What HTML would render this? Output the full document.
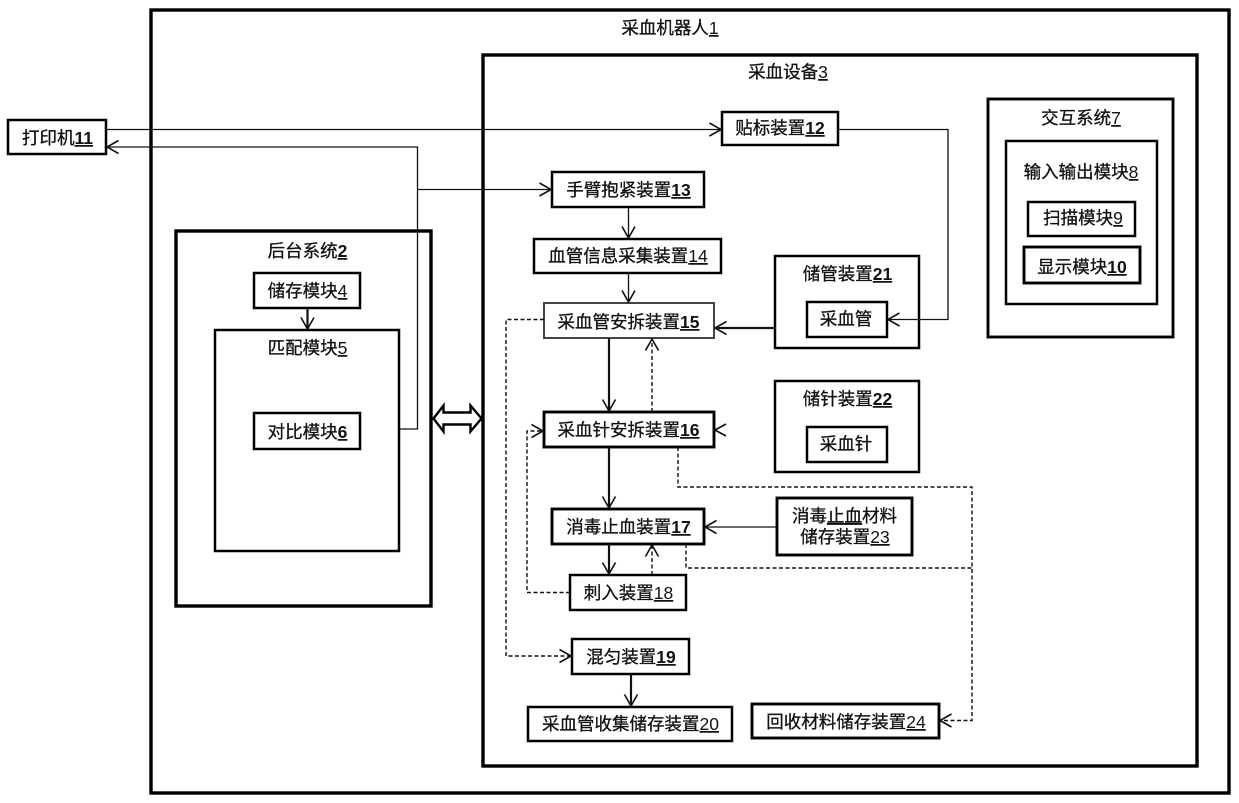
<!DOCTYPE html>
<html lang="zh">
<head>
<meta charset="utf-8">
<title>采血机器人</title>
<style>
html,body{margin:0;padding:0;background:#fff;}
svg{display:block;}
text{font-family:"Liberation Sans","WenQuanYi Zen Hei","Noto Sans CJK SC",sans-serif;font-size:17.5px;fill:#111;text-anchor:middle;stroke:#111;stroke-width:.3px;}
tspan.u{text-decoration:underline;font-weight:bold;stroke:none;}
tspan.n{text-decoration:underline;font-weight:normal;stroke:none;}
rect{fill:none;stroke:#000;}
.w3{stroke-width:3.4;}
.w4{stroke-width:2.9;}
.w2{stroke-width:2.5;}
.w1{stroke-width:2;stroke:#444;}
.l{fill:none;stroke:#111;stroke-width:1.3;}
.m{fill:none;stroke:#111;stroke-width:2.2;}
.d{fill:none;stroke:#111;stroke-width:1.4;stroke-dasharray:4 2.5;}
</style>
</head>
<body>
<svg width="1239" height="803" viewBox="0 0 1239 803" xmlns="http://www.w3.org/2000/svg">
<defs>
<marker id="a" markerUnits="userSpaceOnUse" markerWidth="14" markerHeight="14" refX="12" refY="7" orient="auto" overflow="visible">
<path d="M0.500 0.500 L12 7 L0.500 13.500" fill="none" stroke="#111" stroke-width="1.6"/>
</marker>
</defs>

<!-- containers -->
<rect class="w3" x="151" y="10" width="1078" height="783"/>
<rect class="w3" x="483" y="55" width="714" height="711"/>
<rect class="w3" x="176" y="231" width="255" height="375"/>
<rect class="w2" x="215" y="330" width="184" height="221"/>
<rect class="w2" x="254" y="273" width="106" height="35"/>
<rect class="w2" x="254" y="413" width="106" height="36"/>
<rect class="w2" x="8" y="120" width="98" height="34"/>

<rect class="w2" x="722" y="112" width="116" height="33"/>
<rect class="w2" x="552" y="172" width="152" height="35"/>
<rect class="w2" x="534" y="239" width="187" height="34"/>
<rect class="w1" x="544" y="303" width="170" height="35"/>
<rect class="w4" x="544" y="412" width="170" height="35"/>
<rect class="w4" x="552" y="509" width="152" height="35"/>
<rect class="w2" x="570" y="575" width="116" height="35"/>
<rect class="w2" x="572" y="639" width="117" height="35"/>
<rect class="w2" x="528" y="707" width="204" height="34"/>

<rect class="w2" x="775" y="256" width="144" height="92"/>
<rect class="w2" x="807" y="302" width="80" height="35"/>
<rect class="w2" x="775" y="381" width="144" height="91"/>
<rect class="w2" x="807" y="427" width="80" height="35"/>
<rect class="w4" x="777" y="498" width="135" height="57"/>
<rect class="w4" x="752" y="704" width="187" height="34"/>

<rect class="w4" x="988" y="99" width="185" height="238"/>
<rect class="w2" x="1006" y="141" width="151" height="163"/>
<rect class="w2" x="1028" y="202" width="107" height="34"/>
<rect class="w4" x="1024" y="247" width="116" height="36"/>

<!-- solid connectors -->
<path class="l" d="M106 129.500H721" marker-end="url(#a)"/>
<path class="l" d="M399 429H417.500V147H107" marker-end="url(#a)"/>
<path class="l" d="M417.500 189.500H551" marker-end="url(#a)"/>
<path class="m" d="M307.500 308V329" marker-end="url(#a)"/>
<path class="l" d="M838 129.500H948V319.500H888" marker-end="url(#a)"/>
<path class="l" d="M628.500 207V238" marker-end="url(#a)"/>
<path class="l" d="M628.500 273V302" marker-end="url(#a)"/>
<path class="m" d="M775 328H715" marker-end="url(#a)"/>
<path class="m" d="M609 338V411" marker-end="url(#a)"/>
<path class="m" d="M609 447V508" marker-end="url(#a)"/>
<path class="m" d="M609 544V574" marker-end="url(#a)"/>
<path class="l" d="M777 527H705" marker-end="url(#a)"/>
<path class="m" d="M631 674V706" marker-end="url(#a)"/>
<path d="M726 424 L715 430 L726 436" fill="none" stroke="#111" stroke-width="1.7"/>

<!-- dashed connectors -->
<path class="d" d="M652 412V339" marker-end="url(#a)"/>
<path class="d" d="M652 575V545" marker-end="url(#a)"/>
<path class="d" d="M544 319.500H506V656H571" marker-end="url(#a)"/>
<path class="d" d="M570 592.500H527V431H543" marker-end="url(#a)"/>
<path class="d" d="M678 447V487H972V720.500H940" marker-end="url(#a)"/>
<path class="d" d="M686 544V568H972"/>

<!-- double arrow -->
<path d="M433.500 418.500 L443.500 405.500 V412.500 H470.500 V405.500 L481.500 418.500 L470.500 431.500 V424.500 H443.500 V431.500 Z" fill="#fff" stroke="#000" stroke-width="2.400"/>

<!-- labels -->
<text x="670" y="34">采血机器人<tspan class="n">1</tspan></text>
<text x="788" y="78">采血设备<tspan class="n">3</tspan></text>
<text x="307.500" y="257">后台系统<tspan class="u">2</tspan></text>
<text x="307.500" y="297">储存模块<tspan class="n">4</tspan></text>
<text x="307.500" y="354">匹配模块<tspan class="n">5</tspan></text>
<text x="307.500" y="438">对比模块<tspan class="u">6</tspan></text>
<text x="57.500" y="144">打印机<tspan class="u">11</tspan></text>
<text x="780" y="134">贴标装置<tspan class="u">12</tspan></text>
<text x="628.500" y="196">手臂抱紧装置<tspan class="u">13</tspan></text>
<text x="628" y="262">血管信息采集装置<tspan class="n">14</tspan></text>
<text x="628.500" y="328">采血管安拆装置<tspan class="u">15</tspan></text>
<text x="628.500" y="436">采血针安拆装置<tspan class="u">16</tspan></text>
<text x="628.500" y="533">消毒止血装置<tspan class="u">17</tspan></text>
<text x="628.500" y="599">刺入装置<tspan class="n">18</tspan></text>
<text x="631" y="663">混匀装置<tspan class="u">19</tspan></text>
<text x="630.500" y="730">采血管收集储存装置<tspan class="n">20</tspan></text>
<text x="847.500" y="280">储管装置<tspan class="u">21</tspan></text>
<text x="846" y="325">采血管</text>
<text x="847.500" y="405">储针装置<tspan class="u">22</tspan></text>
<text x="846" y="450">采血针</text>
<text x="844.500" y="522">消毒<tspan text-decoration="underline">止血</tspan>材料</text>
<text x="845" y="543">储存装置<tspan class="n">23</tspan></text>
<text x="846" y="728">回收材料储存装置<tspan class="n">24</tspan></text>
<text x="1081" y="124">交互系统<tspan class="n">7</tspan></text>
<text x="1081" y="178">输入输出模块<tspan class="n">8</tspan></text>
<text x="1083" y="224">扫描模块<tspan class="n">9</tspan></text>
<text x="1082" y="273">显示模块<tspan class="u">10</tspan></text>
</svg>
</body>
</html>
